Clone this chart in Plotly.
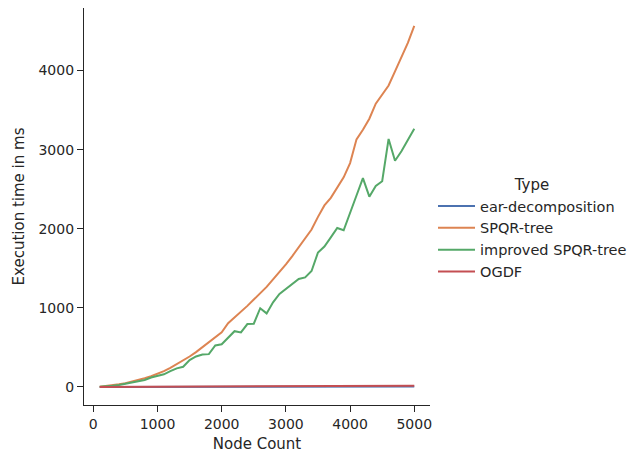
import plotly.graph_objects as go

# Node counts of the benchmark graphs
node_count = list(range(100, 5001, 100))

# Mean execution time in ms per algorithm
ear_decomposition = [0.3, 0.4, 0.5, 0.6, 0.7, 0.8, 0.9, 1.0, 1.1, 1.2,
                     1.3, 1.4, 1.5, 1.6, 1.7, 1.8, 1.9, 2.0, 2.1, 2.2,
                     2.3, 2.4, 2.5, 2.6, 2.7, 2.8, 2.9, 3.0, 3.1, 3.2,
                     3.3, 3.4, 3.5, 3.6, 3.7, 3.8, 3.9, 4.0, 4.1, 4.2,
                     4.3, 4.4, 4.5, 4.6, 4.7, 4.8, 4.9, 5.0, 5.1, 5.2]
spqr_tree = [3, 10, 20, 33, 47, 65, 85, 110, 135, 165,
             200, 240, 285, 330, 385, 440, 505, 565, 625, 690,
             805, 875, 950, 1025, 1105, 1180, 1265, 1360, 1450, 1550,
             1655, 1770, 1880, 1990, 2150, 2295, 2390, 2520, 2650, 2830,
             3130, 3250, 3390, 3580, 3700, 3810, 3990, 4170, 4350, 4565]
improved_spqr_tree = [2, 6, 14, 24, 38, 55, 72, 88, 120, 140,
                      160, 200, 235, 255, 340, 385, 410, 415, 525, 540,
                      620, 705, 690, 795, 800, 995, 930, 1070, 1175, 1235,
                      1300, 1365, 1385, 1465, 1700, 1775, 1890, 2010, 1980, 2210,
                      2420, 2640, 2405, 2540, 2600, 3135, 2860, 2980, 3120, 3265]
ogdf = [1, 1.3, 1.6, 1.9, 2.2, 2.5, 2.8, 3.1, 3.4, 3.7,
        4.0, 4.3, 4.6, 4.9, 5.2, 5.5, 5.8, 6.1, 6.4, 6.7,
        7.0, 7.3, 7.6, 7.9, 8.2, 8.5, 8.8, 9.1, 9.4, 9.7,
        10.0, 10.3, 10.6, 10.9, 11.2, 11.5, 11.8, 12.1, 12.4, 12.7,
        13.0, 13.3, 13.6, 13.9, 14.2, 14.5, 14.8, 15.1, 15.4, 15.7]

series = [
    ("ear-decomposition", ear_decomposition, "#4c72b0"),
    ("SPQR-tree", spqr_tree, "#dd8452"),
    ("improved SPQR-tree", improved_spqr_tree, "#55a868"),
    ("OGDF", ogdf, "#c44e52"),
]

y_ticks = [0, 1000, 2000, 3000, 4000]
x_ticks = [0, 1000, 2000, 3000, 4000, 5000]

ink = "#262626"
font = "DejaVu Sans"

fig = go.Figure()
for name, values, color in series:
    fig.add_trace(go.Scatter(
        x=node_count, y=values, mode="lines", name=name,
        line=dict(color=color, width=2),
    ))

fig.update_layout(
    width=629, height=453,
    margin=dict(l=84, r=199, t=8, b=48),
    paper_bgcolor="white", plot_bgcolor="white",
    font=dict(family=font, size=14, color=ink),
    legend=dict(
        title=dict(text="Type", side="top center", font=dict(size=15, color=ink)),
        xref="container", yref="container",
        x=433 / 629, y=1 - 229 / 453, xanchor="left", yanchor="middle",
        font=dict(size=14.5, color=ink),
        itemwidth=37,
        bgcolor="rgba(0,0,0,0)", tracegroupgap=0,
    ),
    showlegend=True,
)

fig.update_xaxes(
    range=[-145, 5245], tickvals=x_ticks, ticktext=[str(v) for v in x_ticks],
    showgrid=False, zeroline=False, showline=True, linecolor=ink, linewidth=1.3,
    ticks="outside", ticklen=6, tickwidth=1.3, tickcolor=ink,
    tickfont=dict(size=14, color=ink),
    title=dict(text="Node Count", font=dict(size=15, color=ink), standoff=9),
    automargin=False,
)
fig.update_yaxes(
    range=[-228, 4790], tickvals=y_ticks, ticktext=[str(v) for v in y_ticks],
    showgrid=False, zeroline=False, showline=True, linecolor=ink, linewidth=1.3,
    ticks="outside", ticklen=6, tickwidth=1.3, tickcolor=ink,
    tickfont=dict(size=14, color=ink),
    title=dict(text="Execution time in ms", font=dict(size=15, color=ink), standoff=10),
    automargin=False,
)

fig.write_html("out.html")
